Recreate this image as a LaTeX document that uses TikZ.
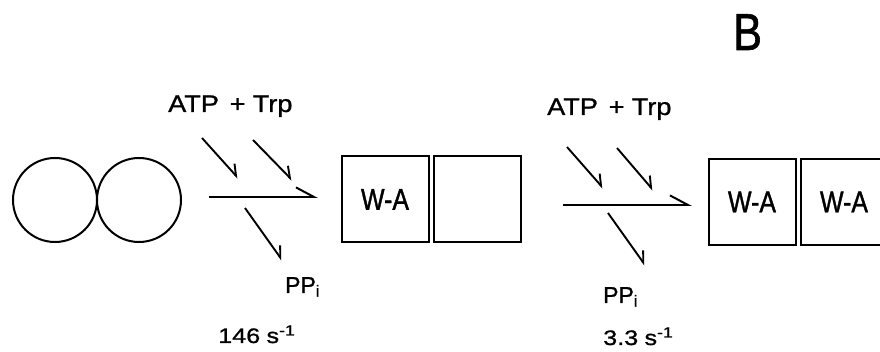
\documentclass[tikz,border=0pt]{standalone}
\usepackage{fontspec}
\setmainfont[FakeBold=1]{Liberation Sans}
\newfontfamily\labwide[FakeStretch=1.13,FakeBold=1]{Liberation Sans}
\newfontfamily\labrate[FakeStretch=1.2,FakeBold=1]{Liberation Sans}
\newfontfamily\labnarrow[FakeStretch=0.83,FakeBold=1.2]{Liberation Sans}
\usetikzlibrary{arrows.meta}
\begin{document}
\begin{tikzpicture}[x=1pt,y=1pt,
  subunit/.style={draw, line width=2pt, circle, minimum size=84pt, inner sep=0pt},
  domainbox/.style={draw, line width=2pt, minimum width=87pt, minimum height=86pt, inner sep=0pt,
    font=\labnarrow\fontsize{30}{30}\selectfont},
  reactarrow/.style={line width=2pt, -{Straight Barb[left, length=18pt, angle'=56, line width=2pt]}},
  sidearrow/.style={line width=1.9pt, -{Straight Barb[left, length=10pt, angle'=70, line width=1.9pt]}},
  reagent/.style={anchor=base west, inner sep=0pt, font=\labwide\fontsize{24}{24}\selectfont},
  product/.style={anchor=base west, inner sep=0pt, font=\fontsize{23}{23}\selectfont},
  rate/.style={anchor=base west, inner sep=0pt, font=\labrate\fontsize{21}{21}\selectfont},
  panel/.style={anchor=base west, inner sep=0pt, font=\labnarrow\fontsize{52}{52}\selectfont}]
\useasboundingbox (0,0) rectangle (880,352);

% panel letter
\node[panel] (letter) at (733,302) {B};

% enzyme dimer with empty sites
\node[subunit] (subA) at (55,152) {};
\node[subunit] (subB) at (139,152) {};

% first activation step
\coordinate (r1s) at (209,155);
\coordinate (r1e) at (318,155);
\draw[reactarrow] (r1s) -- (r1e);
\node[reagent] (in1) at (168,240) {ATP\hspace{0.45em}+\hspace{0.3em}Trp};
\coordinate (a1s) at (202,214); \coordinate (a1e) at (238,174);
\coordinate (b1s) at (253,212); \coordinate (b1e) at (292,172);
\coordinate (c1s) at (245,144); \coordinate (c1e) at (282,92);
\draw[sidearrow] (a1s) -- (a1e);
\draw[sidearrow] (b1s) -- (b1e);
\draw[sidearrow] (c1s) -- (c1e);
\node[product] (out1) at (285,59) {PP\textsubscript{i}};
\node[rate] (k1) at (218,9) {146\hspace{0.3em}s\textsuperscript{-1}};

% singly loaded dimer
\node[domainbox] (box1) at (385,152.5) {W-A};
\node[domainbox] (box2) at (477,152.5) {};

% second activation step
\coordinate (r2s) at (563,147);
\coordinate (r2e) at (692,147);
\draw[reactarrow] (r2s) -- (r2e);
\node[reagent] (in2) at (547,237) {ATP\hspace{0.45em}+\hspace{0.3em}Trp};
\coordinate (a2s) at (567,205); \coordinate (a2e) at (603,164);
\coordinate (b2s) at (617,204); \coordinate (b2e) at (653,162);
\coordinate (c2s) at (608,139); \coordinate (c2e) at (645,87);
\draw[sidearrow] (a2s) -- (a2e);
\draw[sidearrow] (b2s) -- (b2e);
\draw[sidearrow] (c2s) -- (c2e);
\node[product] (out2) at (603,49) {PP\textsubscript{i}};
\node[rate] (k2) at (603,7) {3.3\hspace{0.3em}s\textsuperscript{-1}};

% doubly loaded dimer
\node[domainbox] (box3) at (752,150) {W-A};
\node[domainbox] (box4) at (844,150) {W-A};
\end{tikzpicture}
\end{document}
